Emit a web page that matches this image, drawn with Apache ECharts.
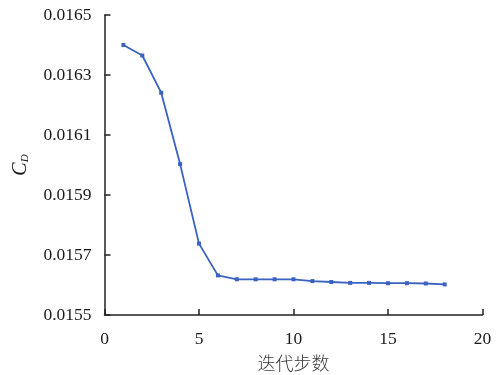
<!DOCTYPE html>
<html>
<head>
<meta charset="utf-8">
<script src="https://cdn.jsdelivr.net/npm/echarts@6/dist/echarts.min.js"></script>
<style>
  html, body { margin: 0; padding: 0; background: #fff; }
  #chart { width: 498px; height: 375px; }
</style>
</head>
<body>
<div id="chart"></div>
<script>
// Iteration step numbers and the drag coefficient at each step
const steps = [1, 2, 3, 4, 5, 6, 7, 8, 9, 10, 11, 12, 13, 14, 15, 16, 17, 18];
const cdValues = [
  0.01640, 0.016365, 0.016241, 0.016003, 0.015738, 0.015632,
  0.015619, 0.015619, 0.015619, 0.015619, 0.015613, 0.015610,
  0.015607, 0.015607, 0.015606, 0.015606, 0.015605, 0.015602
];
const yTickValues = ['0.0155', '0.0157', '0.0159', '0.0161', '0.0163', '0.0165'];
const xTickValues = [0, 5, 10, 15, 20];

// The y axis is drawn relative to its lowest tick (in units of 1e-4),
// so that the tick step of 2 lines up with the axis minimum.
const Y_BASE = Number(yTickValues[0]);
const Y_UNIT = 1e-4;
const Y_STEP = (Number(yTickValues[1]) - Y_BASE) / Y_UNIT;
const Y_MAX = (Number(yTickValues[yTickValues.length - 1]) - Y_BASE) / Y_UNIT;

const seriesData = steps.map((s, i) => [s, (cdValues[i] - Y_BASE) / Y_UNIT]);

const serif = '"Liberation Serif", "Times New Roman", "DejaVu Serif", serif';
const lineColor = '#3a62c0';
const axisColor = '#222';

const chart = echarts.init(document.getElementById('chart'), null, { renderer: 'canvas' });
chart.setOption({
  animation: false,
  backgroundColor: '#fff',
  grid: { left: 104.5, right: 15.5, top: 15, bottom: 60, containLabel: false, outerBoundsMode: 'none' },
  xAxis: {
    type: 'value',
    min: xTickValues[0],
    max: xTickValues[xTickValues.length - 1],
    interval: xTickValues[1] - xTickValues[0],
    name: '迭代步数',
    nameLocation: 'middle',
    nameGap: 39,
    nameTextStyle: { fontFamily: '"Noto Sans CJK SC", sans-serif', fontSize: 18, color: '#3a3a3a', fontWeight: 300 },
    axisLine: { show: true, lineStyle: { color: axisColor, width: 1.5 } },
    axisTick: { show: true, inside: true, length: 6, lineStyle: { color: axisColor, width: 1.5 } },
    axisLabel: { fontFamily: serif, fontSize: 17.5, color: '#1a1a1a', margin: 15 },
    splitLine: { show: false }
  },
  yAxis: {
    type: 'value',
    min: 0,
    max: Y_MAX,
    interval: Y_STEP,
    name: '{c|C}{d|D}',
    nameLocation: 'middle',
    nameRotate: 90,
    nameGap: 74,
    nameTextStyle: {
      rich: {
        c: { fontFamily: serif, fontStyle: 'italic', fontSize: 20, color: '#1a1a1a' },
        d: { fontFamily: serif, fontStyle: 'italic', fontSize: 11, color: '#1a1a1a', padding: [9, 0, 0, 0] }
      }
    },
    axisLine: { show: true, lineStyle: { color: axisColor, width: 1.5 } },
    axisTick: { show: true, inside: true, length: 6, lineStyle: { color: axisColor, width: 1.5 } },
    axisLabel: {
      fontFamily: serif, fontSize: 17.5, color: '#1a1a1a', margin: 13,
      formatter: v => (Y_BASE + v * Y_UNIT).toFixed(4)
    },
    splitLine: { show: false }
  },
  series: [{
    type: 'line',
    data: seriesData,
    symbol: 'rect',
    symbolSize: 4,
    showSymbol: true,
    itemStyle: { color: lineColor },
    lineStyle: { color: lineColor, width: 1.8 }
  }]
});
</script>
</body>
</html>
